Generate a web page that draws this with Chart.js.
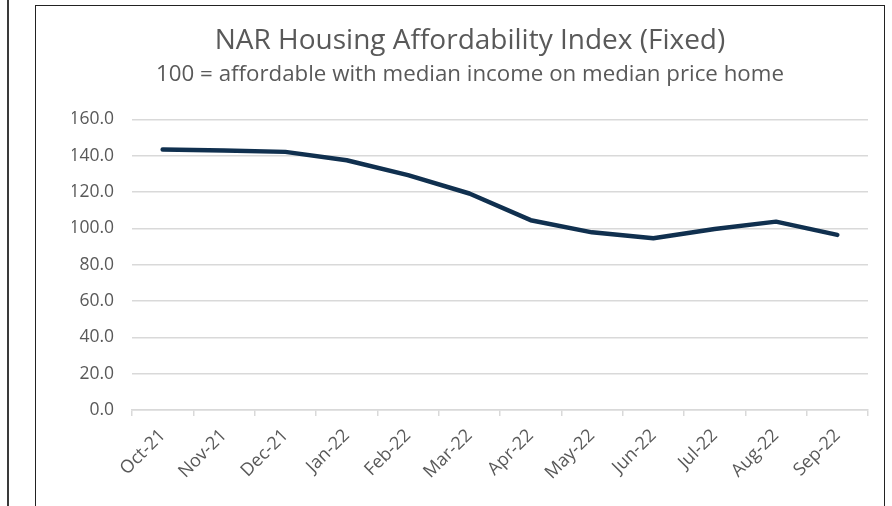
<!DOCTYPE html>
<html>
<head>
<meta charset="utf-8">
<script src="https://cdn.jsdelivr.net/npm/chart.js@4"></script>
<style>
  html, body { margin: 0; padding: 0; background: #fff; }
  #wrap { position: relative; width: 892px; height: 506px; overflow: hidden; }
  #leftLine { position: absolute; left: 7px; top: 0; width: 2px; height: 506px; background: #3a3a3a; }
  #box { position: absolute; left: 35px; top: 5px; width: 850px; height: 520px; border: 1.5px solid #222; box-sizing: border-box; }
  canvas { position: absolute; left: 0; top: 0; }
</style>
</head>
<body>
<div id="wrap">
  <div id="leftLine"></div>
  <div id="box"></div>
  <canvas id="c" width="892" height="506"></canvas>
</div>
<script>
const titleText = 'NAR Housing Affordability Index (Fixed)';
const subtitleText = '100 = affordable with median income on median price home';
const months = ['Oct-21','Nov-21','Dec-21','Jan-22','Feb-22','Mar-22','Apr-22','May-22','Jun-22','Jul-22','Aug-22','Sep-22'];
const affordability = [143.4, 142.8, 142.1, 137.5, 129.3, 119.2, 104.5, 97.8, 94.6, 99.6, 103.7, 96.4];
const yTicks = [0, 20, 40, 60, 80, 100, 120, 140, 160];

const textColor = '#595959';
const gridColor = '#d9d9d9';
const fontFamily = '"Open Sans", Lato, sans-serif';

new Chart(document.getElementById('c'), {
  type: 'line',
  data: {
    labels: months,
    datasets: [{
      data: affordability,
      borderColor: '#10304f',
      borderWidth: 4.5,
      borderCapStyle: 'round',
      borderJoinStyle: 'round',
      pointRadius: 0,
      tension: 0,
      fill: false
    }]
  },
  options: {
    responsive: false,
    animation: false,
    layout: { padding: { left: 72, right: 24, top: 0, bottom: 0 } },
    plugins: {
      legend: { display: false },
      tooltip: { enabled: false },
      title: {
        display: true,
        text: titleText,
        color: textColor,
        font: { family: fontFamily, size: 28, weight: 'normal' },
        padding: { top: 24, bottom: 2 }
      },
      subtitle: {
        display: true,
        text: subtitleText,
        color: textColor,
        font: { family: fontFamily, size: 22.3, weight: 'normal' },
        padding: { top: 2, bottom: 31 }
      }
    },
    scales: {
      x: {
        type: 'category',
        offset: true,
        afterFit: (s) => { s.height = 96; },
        grid: { offset: true, drawOnChartArea: false, drawTicks: true, tickLength: 6, color: gridColor, lineWidth: 1.5 },
        border: { display: true, color: gridColor, width: 1.5 },
        ticks: {
          color: textColor,
          font: { family: fontFamily, size: 18 },
          minRotation: 45,
          maxRotation: 45,
          autoSkip: false,
          padding: 9
        }
      },
      y: {
        min: 0,
        max: 160,
        afterFit: (s) => { s.width = 60; },
        afterBuildTicks: (s) => { s.ticks = yTicks.map(v => ({ value: v })); },
        grid: { color: gridColor, lineWidth: 1.5, drawTicks: false },
        border: { display: false },
        ticks: {
          color: textColor,
          font: { family: fontFamily, size: 17.5 },
          padding: 18,
          callback: (v) => Number(v).toFixed(1)
        }
      }
    }
  }
});
</script>
</body>
</html>
